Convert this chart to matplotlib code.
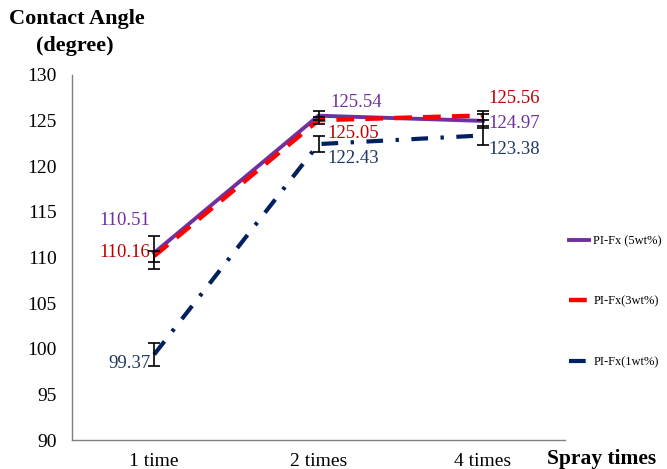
import matplotlib
matplotlib.use("Agg")
import matplotlib.pyplot as plt
import numpy as np

categories = ["1 time", "2 times", "4 times"]
series_names = ["PI-Fx (5wt%)", "PI-Fx(3wt%)", "PI-Fx(1wt%)"]
v5 = [110.51, 125.54, 124.97]
v3 = [110.16, 125.05, 125.56]
v1 = [99.37, 122.43, 123.38]
e5 = [1.8, 0.5, 0.8]
e3 = [0.6, 0.4, 0.5]
e1 = [1.3, 0.9, 1.0]

plt.rcParams['font.family'] = ['Liberation Serif', 'DejaVu Serif']

fig = plt.figure(figsize=(6.67, 4.69), dpi=100)
ax = fig.add_axes([72/667, 29/469, (565-72)/667, (440-75)/469])
x = np.arange(len(categories))

c5, c3, c1 = "#7030A0", "#FF0000", "#002060"
ax.plot(x, v5, color=c5, lw=2.8, ls="-", label=series_names[0], zorder=3)
ax.plot(x, v3, color=c3, lw=3.2, ls=(0, (4, 2.5)), label=series_names[1], zorder=4)
ax.plot(x, v1, color=c1, lw=3.0, ls=(0, (4, 3, 0.8, 3)), label=series_names[2], zorder=3)
for vals, errs in [(v5, e5), (v3, e3), (v1, e1)]:
    ax.errorbar(x, vals, yerr=errs, fmt="none", ecolor="black", elinewidth=1.2,
                capsize=4, capthick=1.2, zorder=5)

ax.set_xlim(-0.5, 2.5)
ax.set_ylim(90, 130)
ax.set_yticks(np.arange(90, 131, 5))
ax.set_xticks(x)
ax.set_xticklabels(categories)
ax.tick_params(axis="both", length=0, labelsize=14)
ax.tick_params(axis="y", pad=11)
ax.tick_params(axis="x", pad=9)
for s in ["top", "right"]:
    ax.spines[s].set_visible(False)
for s in ["left", "bottom"]:
    ax.spines[s].set_color("#808080")
    ax.spines[s].set_linewidth(1.0)

lab_kw = dict(fontsize=13.5, ha="center", va="center")
purple_t, red_t, blue_t = "#7030A0", "#C00000", "#1F3864"
# 1 time
ax.text(-0.18, 114.0, "110.51", color=purple_t, **lab_kw)
ax.text(-0.18, 110.6, "110.16", color=red_t, **lab_kw)
ax.text(-0.15, 98.4, "99.37", color=blue_t, **lab_kw)
# 2 times
ax.text(1.23, 127.0, "125.54", color=purple_t, **lab_kw)
ax.text(1.21, 123.6, "125.05", color=red_t, **lab_kw)
ax.text(1.21, 120.9, "122.43", color=blue_t, **lab_kw)
# 4 times
ax.text(2.19, 127.4, "125.56", color=red_t, **lab_kw)
ax.text(2.19, 124.7, "124.97", color=purple_t, **lab_kw)
ax.text(2.19, 121.8, "123.38", color=blue_t, **lab_kw)

handles, labels = ax.get_legend_handles_labels()
leg = fig.legend(handles, labels, loc="upper left", bbox_to_anchor=(569/667, 1 - 235/469),
                 frameon=False, fontsize=9, handlelength=1.6, handletextpad=0.35,
                 labelspacing=3.9, borderaxespad=0, borderpad=0)

fig.text(9/667, 1 - 19/469, "Contact Angle", fontsize=16, fontweight="bold", ha="left", va="center")
fig.text(36/667, 1 - 46/469, "(degree)", fontsize=16, fontweight="bold", ha="left", va="center")
fig.text(656/667, 1 - 459/469, "Spray times", fontsize=15.5, fontweight="bold", ha="right", va="center")

fig.savefig("out.png", dpi=100)
